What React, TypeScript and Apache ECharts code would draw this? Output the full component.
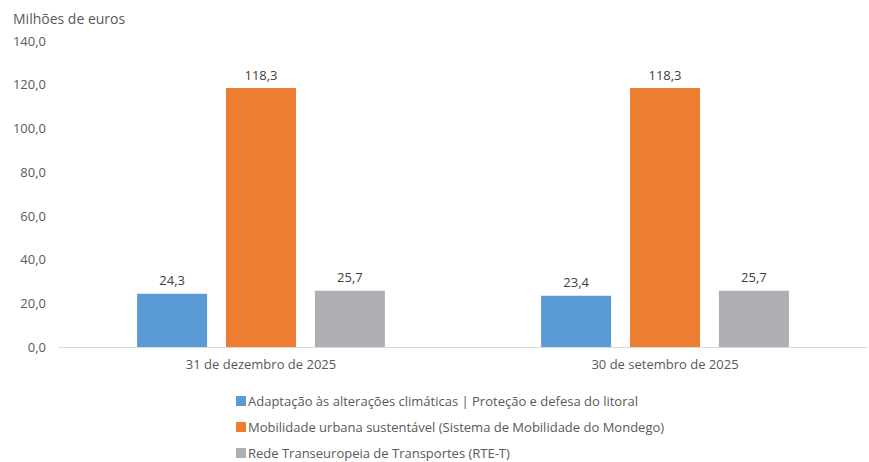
import React, { useEffect, useRef } from "react";
import * as echarts from "echarts";

const categories = ["31 de dezembro de 2025", "30 de setembro de 2025"];
const seriesNames = [
  "Adaptação às alterações climáticas | Proteção e defesa do litoral",
  "Mobilidade urbana sustentável (Sistema de Mobilidade do Mondego)",
  "Rede Transeuropeia de Transportes (RTE-T)",
];
const adaptacao = [24.3, 23.4];
const mobilidade = [118.3, 118.3];
const rede = [25.7, 25.7];
const colors = ["#5B9BD5", "#ED7D31", "#AEAFB2"];

const FONT = "'Open Sans', 'Noto Sans', sans-serif";
const fmt = (v: number) => v.toFixed(1).replace(".", ",");

export default function App() {
  const ref = useRef<HTMLDivElement>(null);
  useEffect(() => {
    if (!ref.current) return;
    const chart = echarts.init(ref.current, undefined, { renderer: "svg" });
    const values = [adaptacao, mobilidade, rede];
    chart.setOption({
      animation: false,
      textStyle: { fontFamily: FONT },
      title: {
        text: "Milhões de euros",
        left: 8,
        top: 6,
        textStyle: { fontFamily: FONT, fontSize: 14, fontWeight: "normal", color: "#595959" },
      },
      legend: {
        orient: "vertical",
        left: 236,
        top: 392,
        height: 70,
        padding: 0,
        itemWidth: 10,
        itemHeight: 10,
        itemGap: 8,
        icon: "rect",
        textStyle: { fontFamily: FONT, fontSize: 13, color: "#595959", padding: [0, 0, 0, -3], lineHeight: 18 },
        data: seriesNames,
      },
      grid: { left: 59, right: 2, top: 40.5, bottom: 462 - 347, containLabel: false },
      xAxis: {
        type: "category",
        data: categories,
        axisLine: { lineStyle: { color: "#D9D9D9" } },
        axisTick: { show: false },
        axisLabel: { fontFamily: FONT, fontSize: 13, color: "#595959", margin: 10 },
      },
      yAxis: {
        type: "value",
        min: 0,
        max: 140,
        interval: 20,
        splitLine: { show: false },
        axisLine: { show: false },
        axisTick: { show: false },
        axisLabel: { fontFamily: FONT, fontSize: 13, color: "#595959", margin: 13, formatter: (v: number) => fmt(v) },
      },
      series: values.map((d, i) => ({
        name: seriesNames[i],
        type: "bar",
        data: d,
        barWidth: 70,
        barGap: "27%",
        itemStyle: { color: colors[i] },
        label: {
          show: true,
          position: "top",
          distance: 7,
          fontFamily: FONT,
          fontSize: 13,
          color: "#404040",
          formatter: (p: any) => fmt(p.value),
        },
      })),
    });
    return () => chart.dispose();
  }, []);
  return <div ref={ref} style={{ width: 869, height: 462, position: "absolute", left: 0, top: 0 }} />;
}
